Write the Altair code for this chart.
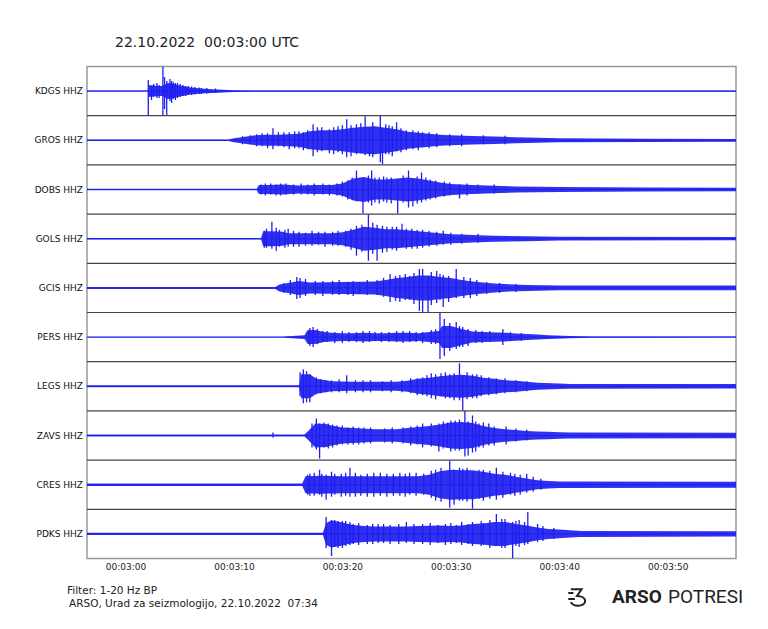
import altair as alt
import pandas as pd

# ---------------- data ----------------
STATIONS = ["KDGS HHZ", "GROS HHZ", "DOBS HHZ", "GOLS HHZ", "GCIS HHZ",
            "PERS HHZ", "LEGS HHZ", "ZAVS HHZ", "CRES HHZ", "PDKS HHZ"]

# seconds after 00:03:00 UTC
X_TICKS = [0, 10, 20, 30, 40, 50]
X_DOMAIN = [-3.55, 56.3]

# core amplitude envelopes: (seconds, half-amplitude); one trace panel = 49.2 units
KDGS_ENV = [(-3.6, 0.5), (2.05, 0.5), (2.15, 6), (3.0, 5), (3.4, 5), (3.9, 8), (4.5, 7),
            (5.0, 5.5), (5.5, 4.5), (6.0, 3.5), (6.5, 3), (7.0, 2.5), (8.0, 1.8), (9.0, 1.3),
            (10.0, 0.9), (12.0, 0.7), (56.3, 0.6)]
GROS_ENV = [(-3.6, 0.7), (9.5, 0.8), (10, 2), (11, 3.5), (12, 5), (13, 5.5), (14, 5.5),
            (15, 6), (16, 6.5), (17, 9), (18, 10), (19, 10), (20, 11), (21, 12.5), (22, 13.5),
            (23, 14), (24, 12.5), (25, 11), (26, 8.5), (27, 7.5), (28, 6.5), (29, 5.5),
            (30, 5), (32, 4.3), (34, 3.7), (36, 3), (38, 2.5), (40, 2), (48, 1.6), (56.3, 1.4)]
DOBS_ENV = [(-3.6, 0.8), (12.1, 0.8), (12.3, 4.5), (13, 4.5), (14.5, 5), (16, 4), (17.5, 4.5),
            (19, 4.5), (20, 6), (21, 11), (22, 12.5), (23, 10), (24, 10), (25, 11), (26, 12),
            (27, 11), (28, 9), (29, 7), (30, 5.5), (31, 5), (32, 4.5), (34, 3.7), (36, 3),
            (40, 2.4), (48, 2), (56.3, 1.8)]
GOLS_ENV = [(-3.6, 0.7), (12.5, 0.7), (12.7, 7.5), (13.5, 7.5), (14.5, 7), (15, 5.5),
            (19, 5.5), (20, 6.5), (21, 9), (22, 12), (23, 11), (24, 9.5), (25, 9.5), (26, 8.5),
            (27, 7.5), (28, 6.5), (29, 5.5), (30, 4.5), (31, 4.3), (32, 3.8), (34, 3),
            (37, 2.5), (40, 1.9), (56.3, 1.6)]
GCIS_ENV = [(-3.6, 1.0), (13.8, 1.0), (14.2, 3.5), (15, 5), (16, 7), (17, 5.5), (23, 6.5),
            (24, 8), (25, 10), (26, 11), (27, 12.5), (28, 12.5), (29, 11), (30, 10), (31, 8),
            (32, 6.5), (33, 5.5), (34, 4.5), (35, 3.8), (37, 3), (40, 2.4), (56.3, 2.3)]
PERS_ENV = [(-3.6, 0.4), (14.5, 0.4), (15, 0.9), (16.5, 1.8), (16.8, 7), (17.5, 7), (18.3, 5),
            (19, 4.3), (20, 3.8), (21, 3.8), (22, 4.3), (23, 3.8), (24, 3.8), (25, 4.3),
            (26, 4.3), (27, 3.8), (28, 5), (28.9, 6), (29.2, 11), (30, 11), (31, 8), (32, 5.5),
            (33, 5), (35, 4.3), (36, 3.7), (37, 3), (38, 2.5), (39, 1.8), (41, 1.2), (43, 0.6),
            (56.3, 0.5)]
LEGS_ENV = [(-3.6, 1.0), (16.0, 1.0), (16.2, 12), (17, 12), (17.6, 7.5), (19, 5), (21, 4.5),
            (25, 4.5), (26, 5.5), (27, 7.5), (28, 8.5), (29, 10), (30, 11), (31, 11.5),
            (32, 10.5), (33, 8.5), (34, 7.5), (35, 6), (36, 5.5), (37, 4.5), (38, 3.5),
            (40, 2.8), (41, 2.4), (56.3, 2.2)]
ZAVS_ENV = [(-3.6, 0.9), (16.5, 0.9), (16.9, 5), (17.5, 12), (18.5, 11.5), (19, 10), (20, 8),
            (21, 7.5), (23, 6.3), (25, 6.3), (26, 7.5), (27, 8.5), (28, 9.5), (29, 11),
            (30, 13), (31, 13.5), (32, 12.5), (33, 9.5), (34, 7.5), (35, 6.3), (36, 5.5),
            (37, 4.5), (38, 4), (39, 3.7), (40, 3.3), (41, 3), (56.3, 2.7)]
CRES_ENV = [(-3.6, 1.2), (16.3, 1.2), (16.6, 8.5), (18, 9), (20, 8.5), (27, 8.5), (28, 10),
            (29, 13.5), (30, 15), (31, 14.5), (32, 14.5), (33, 13), (34, 11), (35, 10),
            (36, 8), (37, 6.3), (38, 4.5), (39, 3.8), (40, 3.2), (56.3, 3)]
PDKS_ENV = [(-3.6, 1.2), (18.2, 1.2), (18.5, 11), (19, 13.5), (20, 11.5), (21, 9), (22, 8),
            (23, 7.5), (26, 7.5), (27, 8), (29, 8.5), (30, 8), (31, 8.5), (32, 10), (33, 10.5),
            (34, 12), (35, 12), (36, 10), (37, 8.5), (38, 6.3), (39, 5), (40, 4.3), (41, 3.6),
            (42, 3), (56.3, 2.7)]

# single swings: (seconds, up, down)
KDGS_PEAKS = [(2.1, 11, 24), (2.4, 5, 9), (2.6, 7, 6), (2.9, 8, 7), (3.1, 6, 7),
              (3.45, 24.5, 24), (3.6, 14, 18), (3.8, 10, 24), (4.1, 12, 10), (4.25, 10, 12),
              (4.4, 9, 8), (4.6, 8, 9), (4.8, 8, 7), (5.05, 7, 6), (5.3, 6, 5), (5.55, 5, 5),
              (5.8, 5, 4), (6.1, 4.5, 4), (6.4, 4, 3.5), (6.8, 3.5, 3), (7.0, 3, 3),
              (7.5, 3, 2.5), (8.3, 2.5, 2)]
GROS_PEAKS = [(10.8, 4, 4), (11.5, 5, 4), (12.1, 6, 6), (12.6, 7, 6), (13.1, 7, 8),
              (13.6, 12, 9), (14.1, 8, 6), (14.6, 8, 7), (15.1, 8, 9), (15.6, 9, 8),
              (16.0, 9, 8), (16.4, 8, 10), (16.8, 10, 9), (17.3, 16, 16), (17.7, 13, 12),
              (18.1, 13, 11), (18.8, 11, 13), (19.2, 13, 14), (19.6, 14, 12), (20.0, 15, 14),
              (20.4, 21, 17), (20.8, 15, 16), (21.3, 16, 14), (21.7, 17, 13), (22.1, 24, 15),
              (22.5, 12, 16), (22.8, 18, 17), (23.5, 24.5, 22), (23.7, 12, 24), (24.0, 16, 14),
              (24.3, 15, 14), (24.6, 14, 16), (25.0, 18, 11), (25.4, 12, 12), (25.9, 10, 10),
              (26.5, 10, 9), (27.0, 9, 10), (27.4, 8, 7), (28.0, 8, 8), (28.7, 7, 7),
              (29.9, 6, 6), (31.0, 6, 6), (33.0, 5, 4), (35.0, 4.5, 4)]
DOBS_PEAKS = [(12.5, 5, 5), (12.9, 6, 6), (13.4, 6, 5), (13.9, 5, 6), (14.3, 6, 6),
              (14.8, 6, 5), (15.5, 5, 5), (16.2, 6, 5), (16.8, 5, 5), (17.4, 6, 6),
              (18.2, 6, 5), (18.8, 5, 6), (19.5, 6, 6), (20.0, 8, 7), (20.5, 9, 10),
              (20.9, 12, 10), (21.3, 19, 12), (21.9, 12, 24), (22.4, 14, 13), (22.7, 19, 16),
              (23.0, 12, 13), (23.4, 12, 14), (23.8, 13, 12), (24.1, 12, 13), (24.5, 12, 14),
              (25.1, 10, 24), (25.6, 14, 13), (26.1, 19, 18), (26.5, 10, 17), (26.9, 13, 14),
              (27.3, 17, 13), (27.7, 12, 11), (28.1, 10, 10), (28.6, 9, 9), (29.4, 8, 7),
              (29.9, 7, 6), (30.8, 5, 9), (31.5, 6, 6), (32.5, 5, 4), (34.0, 5, 4)]
GOLS_PEAKS = [(12.8, 8, 9), (13.0, 10, 9), (13.5, 17, 10), (13.9, 11, 12), (14.2, 9, 8),
              (14.7, 9, 9), (15.0, 10, 8), (15.5, 8, 8), (16.0, 7, 8), (16.6, 6, 7),
              (17.2, 8, 7), (17.8, 7, 6), (18.4, 7, 8), (19.1, 7, 7), (19.6, 8, 7),
              (20.3, 8, 8), (20.8, 10, 11), (21.3, 13, 17), (21.8, 14, 13), (22.4, 24.5, 22),
              (22.8, 16, 15), (23.2, 14, 22), (23.7, 13, 14), (24.1, 12, 13), (24.6, 12, 11),
              (25.0, 12, 12), (25.5, 15, 8), (25.9, 10, 10), (26.4, 10, 10), (26.9, 9, 10),
              (27.4, 9, 9), (28.0, 8, 8), (28.7, 7, 7), (29.3, 8, 6), (30.0, 6, 6),
              (31.0, 5, 5), (32.5, 5, 4)]
GCIS_PEAKS = [(14.6, 5, 5), (15.2, 8, 7), (15.8, 11, 11), (16.1, 10, 10), (16.6, 9, 8),
              (17.5, 7, 7), (18.2, 7, 8), (19.1, 7, 7), (19.7, 8, 7), (20.5, 6, 7),
              (21.0, 7, 8), (21.6, 6, 6), (22.3, 8, 7), (23.2, 8, 7), (23.8, 10, 9),
              (24.4, 14, 14), (24.9, 12, 13), (25.3, 13, 14), (25.8, 14, 12), (26.2, 12, 12),
              (26.6, 15, 16), (27.1, 19, 23), (27.4, 19, 24.5), (27.9, 12, 24), (28.2, 16, 17),
              (28.7, 17, 15), (29.0, 14, 12), (29.3, 13, 19), (29.8, 12, 14), (30.5, 19, 10),
              (31.2, 11, 10), (31.8, 10, 10), (32.4, 8, 8), (33.3, 6, 6), (34.5, 5, 5),
              (36.0, 4, 4)]
PERS_PEAKS = [(16.9, 6, 5), (17.0, 9, 9), (17.3, 10, 10), (17.7, 8, 7),
              (18.2, 6, 5), (18.6, 6, 5), (19.3, 5, 6), (20.0, 6, 6), (20.6, 5, 5),
              (21.3, 5, 5), (21.9, 6, 6), (22.5, 6, 5), (23.0, 5, 4), (23.6, 5, 5),
              (24.3, 5, 5), (25.0, 6, 5), (25.6, 6, 6), (26.2, 6, 5), (26.8, 5, 5),
              (27.4, 5, 6), (28.2, 7, 7), (28.6, 8, 7), (29.0, 24.5, 22), (29.4, 18, 19),
              (29.9, 14, 14), (30.5, 15, 12), (30.8, 11, 10), (31.1, 10, 10), (31.6, 8, 9),
              (32.3, 7, 6), (32.9, 6, 6), (33.6, 6, 5), (34.8, 8, 8), (35.5, 5, 4),
              (36.5, 4, 4)]
LEGS_PEAKS = [(16.1, 14, 10), (16.4, 17, 17), (16.7, 15, 16), (17.0, 12, 16), (17.6, 9, 8),
              (18.0, 7, 7), (18.5, 6, 6), (19.0, 6, 6), (19.7, 7, 6), (20.4, 11, 7),
              (21.2, 6, 6), (21.9, 6, 6), (22.6, 6, 6), (23.7, 5, 5), (24.5, 6, 6),
              (25.5, 6, 6), (26.3, 8, 7), (26.9, 8, 9), (27.4, 9, 9), (27.8, 11, 10),
              (28.2, 13, 12), (28.6, 12, 13), (29.1, 13, 10), (29.5, 14, 12), (29.9, 12, 12),
              (30.3, 13, 14), (30.8, 23, 14), (31.1, 10, 24.5), (31.5, 14, 13), (32.0, 12, 12),
              (32.4, 12, 12), (32.8, 11, 10), (33.5, 9, 9), (34.2, 8, 8), (35.0, 8, 7),
              (36.0, 6, 6), (37.0, 5, 5)]
ZAVS_PEAKS = [(13.6, 3, 2), (17.2, 12, 12), (17.6, 17, 14), (17.9, 12, 23), (18.3, 13, 12),
              (18.7, 12, 13), (19.1, 11, 12), (19.5, 10, 10), (20.0, 10, 9), (20.5, 8, 9),
              (21.0, 9, 9), (21.5, 8, 9), (22.0, 8, 8), (22.6, 8, 8), (23.9, 7, 7),
              (24.6, 8, 8), (25.6, 8, 8), (26.3, 9, 10), (26.9, 10, 9), (27.4, 12, 12),
              (28.2, 12, 11), (28.9, 12, 16), (29.3, 14, 13), (29.7, 13, 12), (30.0, 15, 16),
              (30.4, 15, 15), (30.8, 16, 15), (31.3, 24.5, 21), (31.6, 14, 20), (32.0, 20, 17),
              (32.3, 14, 16), (32.6, 12, 12), (33.0, 13, 12), (33.5, 12, 10), (34.0, 9, 10),
              (35.1, 9, 9), (36.0, 7, 6), (37.0, 6, 5)]
CRES_PEAKS = [(16.8, 10, 10), (17.0, 11, 11), (17.4, 12, 11), (17.9, 15, 10), (18.1, 11, 12),
              (18.5, 10, 15), (19.0, 13, 12), (19.3, 11, 10), (19.9, 11, 12), (20.3, 12, 11),
              (20.7, 17, 12), (21.2, 12, 12), (21.7, 10, 11), (22.3, 11, 12), (22.9, 12, 12),
              (23.5, 12, 11), (24.1, 11, 12), (24.7, 11, 11), (25.3, 12, 11), (25.8, 11, 12),
              (26.2, 12, 10), (26.8, 12, 11), (27.5, 11, 10), (28.2, 14, 13), (28.6, 15, 16),
              (29.1, 17, 17), (29.9, 24, 23), (30.3, 15, 20), (30.8, 17, 16), (31.1, 16, 16),
              (31.5, 17, 17), (32.0, 12, 24), (32.6, 15, 14), (33.0, 15, 16), (33.6, 14, 14),
              (34.2, 17, 15), (34.8, 13, 13), (35.5, 12, 10), (35.9, 11, 11), (36.4, 10, 10),
              (37.0, 11, 8), (37.6, 8, 7), (38.3, 6, 5)]
PDKS_PEAKS = [(18.5, 17, 14), (19.0, 14, 22), (19.3, 14, 13), (19.6, 13, 14), (20.0, 13, 14),
              (20.3, 13, 12), (20.7, 12, 11), (21.0, 10, 10), (21.5, 11, 11), (22.3, 9, 10),
              (22.8, 10, 10), (23.3, 10, 9), (23.8, 10, 9), (24.4, 9, 10), (25.2, 10, 10),
              (25.9, 12, 9), (26.6, 10, 10), (27.4, 10, 10), (28.1, 11, 11), (28.8, 9, 9),
              (29.5, 10, 11), (30.0, 11, 10), (30.5, 9, 9), (31.0, 12, 11), (31.6, 10, 10),
              (32.0, 12, 12), (32.8, 13, 12), (33.0, 11, 11), (33.6, 14, 14), (34.2, 20, 12),
              (34.7, 15, 14), (35.0, 15, 14), (35.7, 12, 24.5), (36.0, 13, 12), (36.3, 14, 13),
              (36.8, 12, 11), (37.1, 22, 10), (38.0, 10, 8), (38.5, 8, 7), (39.5, 6, 5)]

ENVS = [KDGS_ENV, GROS_ENV, DOBS_ENV, GOLS_ENV, GCIS_ENV,
        PERS_ENV, LEGS_ENV, ZAVS_ENV, CRES_ENV, PDKS_ENV]
PEAKS = [KDGS_PEAKS, GROS_PEAKS, DOBS_PEAKS, GOLS_PEAKS, GCIS_PEAKS,
         PERS_PEAKS, LEGS_PEAKS, ZAVS_PEAKS, CRES_PEAKS, PDKS_PEAKS]

TITLE = "22.10.2022\u00a0\u00a000:03:00 UTC"
FOOTER_1 = "Filter: 1-20 Hz BP"
FOOTER_2 = "ARSO, Urad za seizmologijo, 22.10.2022\u00a0\u00a007:34"

# ---------------- build tables ----------------
SPAN = 49.2
N = len(STATIONS)
env_rows, peak_rows, label_rows = [], [], []
for i, name in enumerate(STATIONS):
    pos = N - 1 - i
    label_rows.append({"station": name, "pos": pos})
    for t, a in ENVS[i]:
        env_rows.append({"station": name, "t": t, "pos": pos,
                         "lo": pos - a / SPAN, "hi": pos + a / SPAN})
    for t, up, dn in PEAKS[i]:
        peak_rows.append({"station": name, "t": t,
                          "top": pos + up / SPAN, "bot": pos - dn / SPAN})
env = pd.DataFrame(env_rows)
peaks = pd.DataFrame(peak_rows)
labels = pd.DataFrame(label_rows)
seps = pd.DataFrame({"y": [k + 0.5 for k in range(N - 1)]})

BLUE = "#1e1ef0"
xscale = alt.Scale(domain=X_DOMAIN, nice=False, zero=False)
yscale = alt.Scale(domain=[-0.5, N - 0.5], nice=False, zero=False)

xaxis = alt.Axis(values=X_TICKS, title=None, grid=False, domain=False, ticks=False,
                 labelExpr="'00:03:' + (datum.value < 10 ? '0' : '') + datum.value",
                 labelFont="DejaVu Sans", labelFontSize=9, labelColor="#222",
                 labelPadding=4)
yaxis = alt.Axis(title=None, grid=False, domain=False, ticks=False, labels=False)

area = alt.Chart(env).mark_area(color=BLUE, opacity=0.92, clip=True).encode(
    x=alt.X("t:Q", scale=xscale, axis=xaxis),
    y=alt.Y("lo:Q", scale=yscale, axis=yaxis),
    y2="hi:Q",
    detail="station:N",
)
base = alt.Chart(env).mark_line(color=BLUE, strokeWidth=1, clip=True).encode(
    x=alt.X("t:Q", scale=xscale, axis=xaxis),
    y=alt.Y("pos:Q", scale=yscale, axis=yaxis),
    detail="station:N",
)
spikes = alt.Chart(peaks).mark_rule(color=BLUE, strokeWidth=1.3, clip=True).encode(
    x=alt.X("t:Q", scale=xscale, axis=xaxis),
    y=alt.Y("top:Q", scale=yscale, axis=yaxis),
    y2="bot:Q",
)
separators = alt.Chart(seps).mark_rule(color="#444", strokeWidth=1.2).encode(
    y=alt.Y("y:Q", scale=yscale, axis=yaxis),
)
station_text = alt.Chart(labels).mark_text(
    align="right", baseline="middle", font="DejaVu Sans", fontSize=9, color="#111"
).encode(
    text="station:N",
    x=alt.value(-4),
    y=alt.Y("pos:Q", scale=yscale, axis=yaxis),
)

foot1 = alt.Chart(pd.DataFrame({"txt": [FOOTER_1]})).mark_text(
    align="left", baseline="middle", font="DejaVu Sans", fontSize=10.5, color="#222"
).encode(text="txt:N", x=alt.value(-20), y=alt.value(524))
foot2 = alt.Chart(pd.DataFrame({"txt": [FOOTER_2]})).mark_text(
    align="left", baseline="middle", font="DejaVu Sans", fontSize=10.5, color="#222"
).encode(text="txt:N", x=alt.value(-18), y=alt.value(537.5))
arso = alt.Chart(pd.DataFrame({"txt": ["ARSO"]})).mark_text(
    align="left", baseline="middle", font="Roboto", fontSize=19, fontWeight="bold", color="#222"
).encode(text="txt:N", x=alt.value(525), y=alt.value(530.5))
potresi = alt.Chart(pd.DataFrame({"txt": ["POTRESI"]})).mark_text(
    align="left", baseline="middle", font="Roboto", fontSize=19, color="#222"
).encode(text="txt:N", x=alt.value(581), y=alt.value(530.5))
LOGO = ("M -0.7 -0.75 L 0.35 -0.75 L -0.1 -0.1 "
        "C 0.95 -0.1 0.95 0.85 0.0 0.85 C -0.4 0.85 -0.6 0.7 -0.7 0.5 "
        "M -0.95 -0.4 L -0.45 -0.4 M -0.95 0.2 L -0.3 0.2")
logo = alt.Chart(pd.DataFrame({"k": [0]})).mark_point(
    shape=LOGO, filled=False, stroke="#222", strokeWidth=2, size=420, opacity=1
).encode(x=alt.value(491), y=alt.value(530.5))

chart = alt.layer(area, base, spikes, separators, station_text,
                  foot1, foot2, arso, potresi, logo).properties(
    width=649, height=492,
    padding={"left": 87, "top": 66.5, "right": 32, "bottom": 70.5},
    autosize=alt.AutoSizeParams(type="none"),
    background="white",
    title=alt.TitleParams(text=TITLE, anchor="start", frame="group", dx=28, offset=5.5,
                          baseline="alphabetic", font="DejaVu Sans", fontSize=14,
                          fontWeight="normal", color="#222"),
).configure_view(stroke="#999", strokeWidth=1.5)

chart.save("out.html", embed_options={"renderer": "svg", "actions": False})
